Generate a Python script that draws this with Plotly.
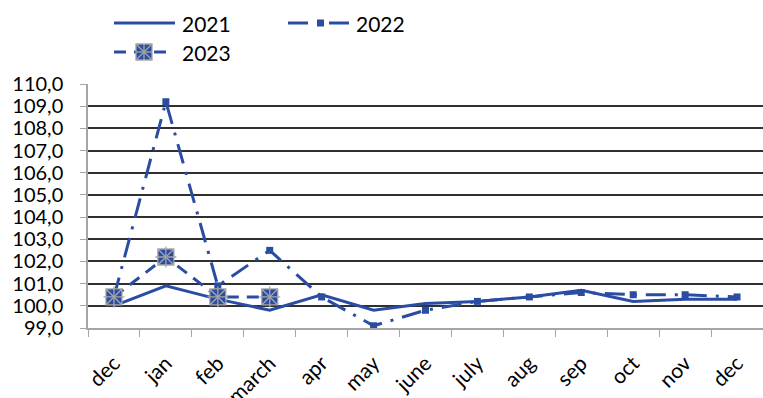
import plotly.graph_objects as go

# Monthly index values (previous December = first point)
months = ["dec", "jan", "feb", "march", "apr", "may", "june",
          "july", "aug", "sep", "oct", "nov", "dec"]
values_2021 = [100.0, 100.9, 100.3, 99.8, 100.5, 99.8, 100.1,
               100.2, 100.4, 100.7, 100.2, 100.3, 100.3]
values_2022 = [100.4, 109.2, 100.9, 102.5, 100.4, 99.1, 99.8,
               100.2, 100.4, 100.6, 100.5, 100.5, 100.4]
values_2023 = [100.4, 102.2, 100.4, 100.4]
y_ticks = [99, 100, 101, 102, 103, 104, 105, 106, 107, 108, 109, 110]

BLUE = "#2A4DA3"
GREY = "#A6A6A6"
FONT = "Lato"
W, H = 763, 398
ML, MR, MT, MB = 88, 0, 84, 70
PW, PH = W - ML - MR, H - MT - MB

DASHDOT = "20px,9px,3px,9px"
DASHED = "12px,8px"

x = list(range(len(months)))

fig = go.Figure()
fig.add_trace(go.Scatter(
    x=x, y=values_2021, mode="lines", name="2021",
    line=dict(color=BLUE, width=3), showlegend=False))
fig.add_trace(go.Scatter(
    x=x, y=values_2022, mode="lines+markers", name="2022",
    line=dict(color=BLUE, width=3, dash=DASHDOT),
    marker=dict(symbol="square", size=7, color=BLUE), showlegend=False))
fig.add_trace(go.Scatter(
    x=x[:len(values_2023)], y=values_2023, mode="lines+markers", name="2023",
    line=dict(color=BLUE, width=3, dash=DASHED),
    marker=dict(symbol="square-x", size=16, color=BLUE,
                line=dict(color=GREY, width=1.3)), showlegend=False))
# "+" strokes on top of the 2023 markers
fig.add_trace(go.Scatter(
    x=x[:len(values_2023)], y=values_2023, mode="markers",
    marker=dict(symbol="cross-thin", size=15, color=GREY,
                line=dict(color=GREY, width=1.3)),
    showlegend=False, hoverinfo="skip"))


def px_x(p):
    return (p - ML) / PW


def px_y(p):
    return (H - MB - p) / PH


shapes = []
annotations = []


def legend_line(x0, x1, yy, dash):
    shapes.append(dict(type="line", xref="paper", yref="paper",
                       x0=px_x(x0), x1=px_x(x1), y0=px_y(yy), y1=px_y(yy),
                       line=dict(color=BLUE, width=3, dash=dash)))


def legend_text(x0, yy, text):
    annotations.append(dict(xref="paper", yref="paper", x=px_x(x0), y=px_y(yy),
                            text=text, showarrow=False, xanchor="left",
                            yanchor="middle",
                            font=dict(family=FONT, size=21, color="black")))


# 2021
legend_line(114, 175, 23, "solid")
legend_text(180, 23, "2021")
# 2022
legend_line(288, 351, 23, DASHDOT)
shapes.append(dict(type="rect", xref="paper", yref="paper",
                   x0=px_x(317), x1=px_x(324), y0=px_y(26.5), y1=px_y(19.5),
                   fillcolor=BLUE, line=dict(width=0)))
legend_text(354, 23, "2022")
# 2023
legend_line(114, 168, 52, DASHED)
cx, cy, hs = 144, 52, 8
shapes.append(dict(type="rect", xref="paper", yref="paper",
                   x0=px_x(cx - hs), x1=px_x(cx + hs),
                   y0=px_y(cy + hs), y1=px_y(cy - hs),
                   fillcolor=BLUE, line=dict(color=GREY, width=1.3)))
for (a, b, c, d) in [(cx - hs, cy - hs, cx + hs, cy + hs),
                     (cx - hs, cy + hs, cx + hs, cy - hs),
                     (cx, cy - hs, cx, cy + hs),
                     (cx - hs, cy, cx + hs, cy)]:
    shapes.append(dict(type="line", xref="paper", yref="paper",
                       x0=px_x(a), x1=px_x(c), y0=px_y(b), y1=px_y(d),
                       line=dict(color=GREY, width=1.3)))
legend_text(180, 52, "2023")

fig.update_layout(
    width=W, height=H,
    margin=dict(l=ML, r=MR, t=MT, b=MB),
    paper_bgcolor="white", plot_bgcolor="white",
    separators=", ",
    font=dict(family=FONT, size=20, color="black"),
    showlegend=False,
    shapes=shapes, annotations=annotations,
    xaxis=dict(
        range=[-0.5, len(months) - 0.5],
        tickmode="array", tickvals=x, ticktext=months,
        tickangle=-45, ticks="outside", ticklen=7,
        tickcolor="rgba(0,0,0,0)",
        ticklabelstandoff=6,
        showgrid=False, zeroline=False,
        showline=True, linecolor=GREY, linewidth=1.5,
        minor=dict(tickmode="array",
                   tickvals=[i - 0.5 for i in range(len(months) + 1)],
                   ticks="outside", ticklen=7, tickcolor=GREY, tickwidth=1.2,
                   showgrid=False),
        automargin=False,
        tickfont=dict(family=FONT, size=21, color="black"),
    ),
    yaxis=dict(
        range=[99, 110], tickmode="array", tickvals=y_ticks,
        tickformat=".1f",
        ticks="outside", ticklen=6, tickcolor=GREY, tickwidth=1.2,
        ticklabelstandoff=13,
        showgrid=True, gridcolor="#303030", gridwidth=1.6,
        zeroline=False,
        showline=True, linecolor=GREY, linewidth=1.5,
        automargin=False,
        tickfont=dict(family=FONT, size=20, color="black"),
    ),
)

fig.write_html("out.html")
